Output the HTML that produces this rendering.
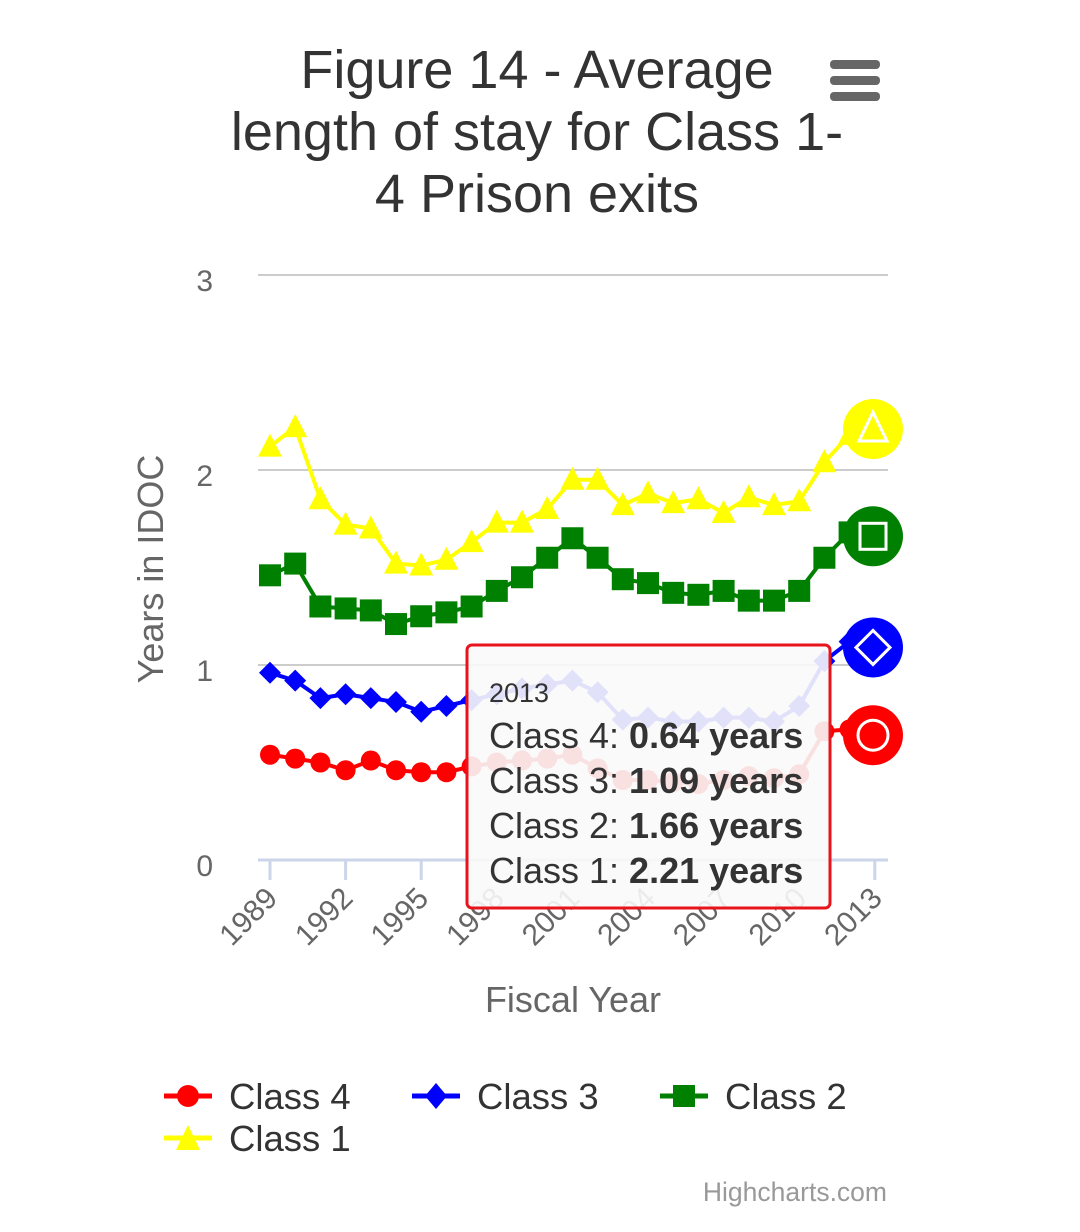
<!DOCTYPE html>
<html><head><meta charset="utf-8"><style>
html,body{margin:0;padding:0;background:#fff;}
svg{display:block;font-family:"Liberation Sans",Arial,sans-serif;}
</style></head><body>
<svg id="c" width="1080" height="1232" viewBox="0 0 1080 1232" xmlns="http://www.w3.org/2000/svg">
<rect width="1080" height="1232" fill="#fff"/>
<g font-size="54" fill="#333" text-anchor="middle">
<text x="537" y="88">Figure 14 - Average</text>
<text x="537" y="150">length of stay for Class 1-</text>
<text x="537" y="212">4 Prison exits</text>
</g>
<g fill="#666"><rect x="830" y="60" width="50" height="9" rx="4"/><rect x="830" y="76" width="50" height="9" rx="4"/><rect x="830" y="92" width="50" height="9" rx="4"/></g>
<g stroke="#ccc" stroke-width="2"><line x1="258" y1="275" x2="888" y2="275"/><line x1="258" y1="470" x2="888" y2="470"/><line x1="258" y1="665" x2="888" y2="665"/></g>
<line x1="258" y1="860" x2="888" y2="860" stroke="#ccd6eb" stroke-width="3"/>
<g fill="#666" font-size="30" text-anchor="end"><text x="213" y="291">3</text><text x="213" y="486">2</text><text x="213" y="681">1</text><text x="213" y="876">0</text></g>
<text transform="translate(163,569) rotate(-90)" font-size="36" fill="#666" text-anchor="middle">Years in IDOC</text>
<text x="573" y="1012" font-size="36" fill="#666" text-anchor="middle">Fiscal Year</text>
<g id="ticks"></g>
<g id="series"></g>
<g id="hover"></g>
<rect x="467" y="645" width="363" height="263" rx="5" fill="#f9f9f9" fill-opacity="0.9" stroke="#e8141b" stroke-width="3"/>
<g fill="#333"><text x="489" y="702" font-size="27">2013</text>
<g font-size="36"><text x="489" y="748">Class 4: <tspan font-weight="bold">0.64 years</tspan></text>
<text x="489" y="793">Class 3: <tspan font-weight="bold">1.09 years</tspan></text>
<text x="489" y="838">Class 2: <tspan font-weight="bold">1.66 years</tspan></text>
<text x="489" y="883">Class 1: <tspan font-weight="bold">2.21 years</tspan></text></g></g>
<g font-size="36.5" fill="#333">
<line x1="164" y1="1096" x2="212" y2="1096" stroke="#f00" stroke-width="5"/><circle cx="188" cy="1096" r="11" fill="#f00"/><text x="229" y="1109">Class 4</text>
<line x1="412" y1="1096" x2="460" y2="1096" stroke="#00f" stroke-width="5"/><path d="M436 1083 L447 1096 L436 1109 L425 1096Z" fill="#00f"/><text x="477" y="1109">Class 3</text>
<line x1="660" y1="1096" x2="708" y2="1096" stroke="#008000" stroke-width="5"/><rect x="673" y="1085" width="22" height="22" fill="#008000"/><text x="725" y="1109">Class 2</text>
<line x1="164" y1="1138" x2="212" y2="1138" stroke="#ff0" stroke-width="5"/><path d="M188 1125 L200 1150 L176 1150Z" fill="#ff0"/><text x="229" y="1151">Class 1</text>
</g>
<text x="887" y="1201" font-size="26.5" fill="#999" text-anchor="end">Highcharts.com</text>
</svg>
<script>
var NS="http://www.w3.org/2000/svg";
function el(t,a,p){var e=document.createElementNS(NS,t);for(var k in a)e.setAttribute(k,a[k]);p.appendChild(e);return e;}
function X(i){return 270+i*25.2;}function Y(v){return 860-v*195;}
var c1=[2.12,2.22,1.85,1.72,1.70,1.52,1.51,1.54,1.63,1.73,1.73,1.80,1.95,1.95,1.82,1.88,1.83,1.85,1.78,1.86,1.82,1.84,2.04,2.18,2.21];
var c2=[1.46,1.52,1.30,1.29,1.28,1.21,1.25,1.27,1.30,1.38,1.45,1.55,1.65,1.55,1.44,1.42,1.37,1.36,1.38,1.33,1.33,1.38,1.55,1.68,1.66];
var c3=[0.96,0.92,0.83,0.85,0.83,0.81,0.76,0.79,0.82,0.85,0.88,0.90,0.92,0.86,0.72,0.73,0.71,0.71,0.73,0.73,0.71,0.79,1.02,1.12,1.09];
var c4=[0.54,0.52,0.50,0.46,0.51,0.46,0.45,0.45,0.48,0.50,0.51,0.52,0.54,0.47,0.41,0.41,0.40,0.39,0.41,0.43,0.42,0.44,0.66,0.67,0.64];
var tk=document.getElementById('ticks');
for(var i=0;i<=24;i+=3){var x=X(i);el('line',{x1:x,y1:860,x2:x,y2:880,stroke:'#ccd6eb','stroke-width':3},tk);
var t=el('text',{x:x+9,y:900,'font-size':30,fill:'#666','text-anchor':'end',transform:'rotate(-45 '+(x+9)+' 900)'},tk);t.textContent=1989+i;}
var sg=document.getElementById('series');
function mk(type,x,y,col,g){
 if(type=='c')el('circle',{cx:x,cy:y,r:10,fill:col},g);
 else if(type=='d')el('path',{d:'M'+x+' '+(y-11)+'L'+(x+11)+' '+y+'L'+x+' '+(y+11)+'L'+(x-11)+' '+y+'Z',fill:col},g);
 else if(type=='s')el('rect',{x:x-11,y:y-11,width:22,height:22,fill:col},g);
 else el('path',{d:'M'+x+' '+(y-13)+'L'+(x+12)+' '+(y+10)+'L'+(x-12)+' '+(y+10)+'Z',fill:col},g);}
[[c1,'#ff0','t'],[c2,'#008000','s'],[c3,'#00f','d'],[c4,'#f00','c']].forEach(function(s){
 var pts=s[0].map(function(v,i){return X(i)+','+Y(v);}).join(' ');
 el('polyline',{points:pts,fill:'none',stroke:s[1],'stroke-width':4,'stroke-linejoin':'round'},sg);
 s[0].forEach(function(v,i){mk(s[2],X(i),Y(v),s[1],sg);});
});
var h=document.getElementById('hover');var hx=873;
[[2.21,'#ff0','t'],[1.66,'#008000','s'],[1.09,'#00f','d'],[0.64,'#f00','c']].forEach(function(s){
 var y=Y(s[0]);el('circle',{cx:hx,cy:y,r:30,fill:s[1]},h);
 if(s[2]=='t')el('path',{d:'M'+hx+' '+(y-17)+'L'+(hx+14)+' '+(y+12)+'L'+(hx-14)+' '+(y+12)+'Z',fill:'none',stroke:'#fff','stroke-width':3},h);
 if(s[2]=='s')el('rect',{x:hx-13,y:y-13,width:26,height:26,fill:'none',stroke:'#fff','stroke-width':3},h);
 if(s[2]=='d')el('path',{d:'M'+hx+' '+(y-17)+'L'+(hx+17)+' '+y+'L'+hx+' '+(y+17)+'L'+(hx-17)+' '+y+'Z',fill:'none',stroke:'#fff','stroke-width':3},h);
 if(s[2]=='c')el('circle',{cx:hx,cy:y,r:15,fill:'none',stroke:'#fff','stroke-width':3},h);
});
</script>
</body></html>
